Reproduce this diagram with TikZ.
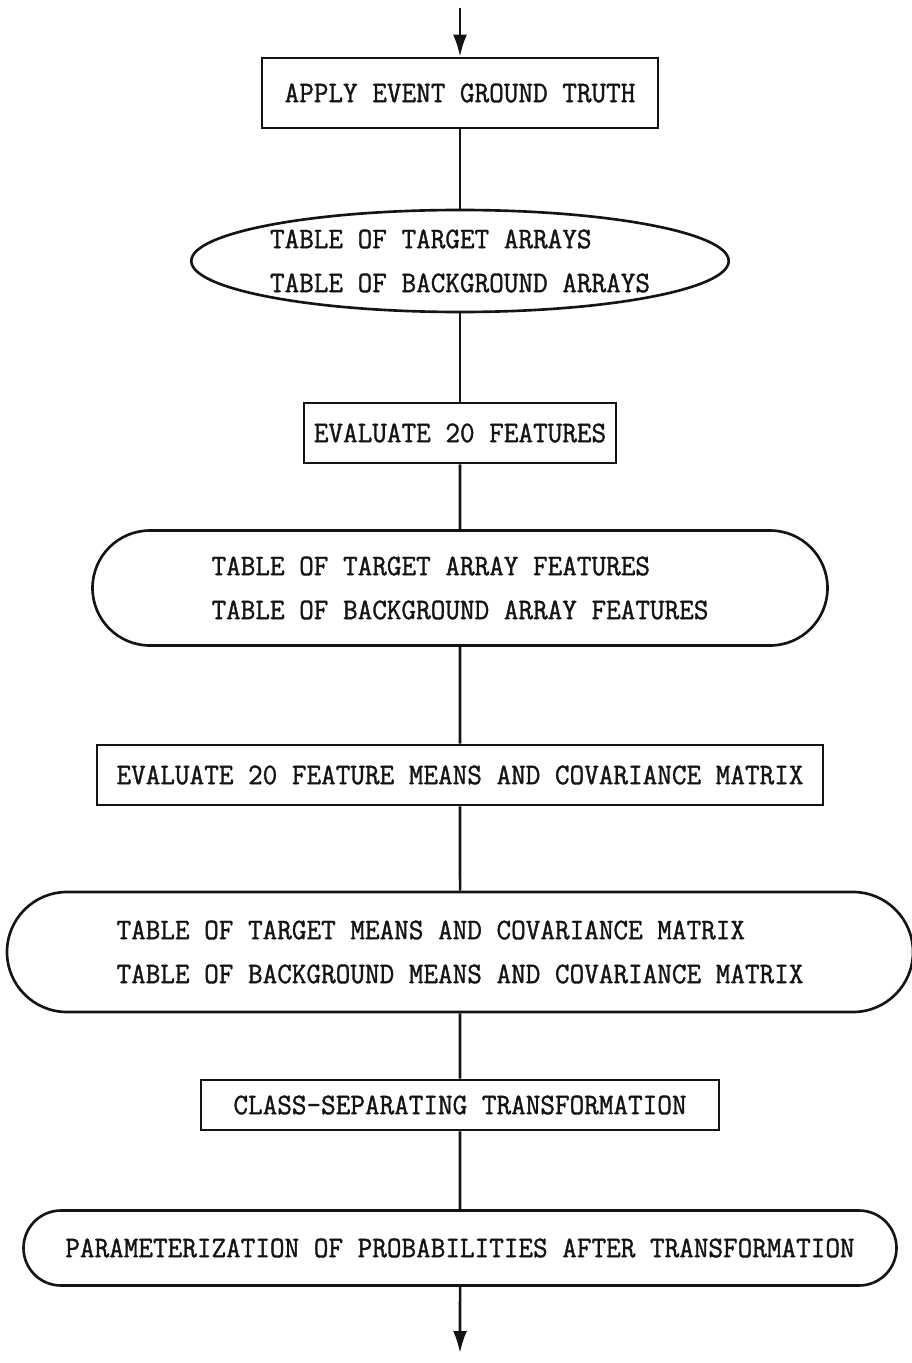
\documentclass[tikz,border=0pt]{standalone}
\usepackage{fontspec}
\usepackage{tikz}
\usetikzlibrary{positioning, shapes.geometric, shapes.misc, arrows.meta}
\setmonofont[FakeStretch=0.95,FakeBold=1.2]{Latin Modern Mono}
\definecolor{ink}{HTML}{141414}

\begin{document}
\begin{tikzpicture}[font=\ttfamily\fontsize{17pt}{25pt}\selectfont, ink, line width=1.5pt,
  box/.style={draw=ink, rectangle, inner sep=0pt, align=center},
  oval/.style={draw=ink, ellipse, inner sep=0pt, align=left},
  pill/.style={draw=ink, rounded rectangle, inner sep=0pt, align=left},
  flow/.style={-{Latex[length=4.4mm, width=2.8mm]}, ink}
]
  \useasboundingbox (0,0) rectangle (18.22,-27.26);

  \coordinate (top) at (9.2,-0.16);
  \node[box, minimum width=7.92cm, minimum height=1.4cm] (truth) at (9.2,-1.86) {APPLY EVENT GROUND TRUTH};
  \node[oval, minimum width=10.4cm, minimum height=2.04cm] (arrays) at (9.2,-5.22) {TABLE OF TARGET ARRAYS\\TABLE OF BACKGROUND ARRAYS};
  \node[box, minimum width=6.24cm, minimum height=1.2cm] (feat) at (9.2,-8.66) {EVALUATE 20 FEATURES};
  \node[pill, minimum width=14.7cm, minimum height=2.3cm] (arrfeat) at (9.2,-11.76) {TABLE OF TARGET ARRAY FEATURES\\TABLE OF BACKGROUND ARRAY FEATURES};
  \node[box, minimum width=14.52cm, minimum height=1.2cm] (means) at (9.2,-15.5) {EVALUATE 20 FEATURE MEANS AND COVARIANCE MATRIX};
  \node[pill, minimum width=18.12cm, minimum height=2.4cm] (tabmeans) at (9.2,-19.04) {TABLE OF TARGET MEANS AND COVARIANCE MATRIX\\TABLE OF BACKGROUND MEANS AND COVARIANCE MATRIX};
  \node[box, minimum width=10.36cm, minimum height=1.0cm] (sep) at (9.2,-22.1) {CLASS-SEPARATING TRANSFORMATION};
  \node[pill, minimum width=17.46cm, minimum height=1.5cm] (param) at (9.2,-24.96) {PARAMETERIZATION OF PROBABILITIES AFTER TRANSFORMATION};
  \coordinate (bot) at (9.2,-27.06);

  \draw[flow] (top) -- (truth);
  \draw (truth) -- (arrays);
  \draw (arrays) -- (feat);
  \draw (feat) -- (arrfeat);
  \draw (arrfeat) -- (means);
  \draw (means) -- (tabmeans);
  \draw (tabmeans) -- (sep);
  \draw (sep) -- (param);
  \draw[flow] (param) -- (bot);
\end{tikzpicture}
\end{document}
